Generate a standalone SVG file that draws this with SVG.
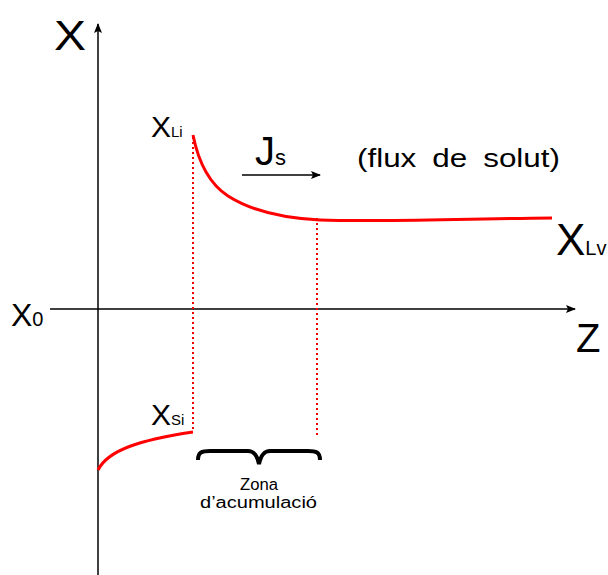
<svg xmlns="http://www.w3.org/2000/svg" width="608" height="575" viewBox="0 0 608 575">
<style>
text{font-family:"Liberation Sans","DejaVu Sans",sans-serif;fill:#000}
.ax{stroke:#000;stroke-width:1.5;fill:none}
.curve{stroke:#f00;stroke-width:3;fill:none}
.dot{stroke:#e00;stroke-width:2;stroke-dasharray:2 3;fill:none}
</style>
<defs>
<marker id="ah" markerWidth="10" markerHeight="8" refX="9" refY="4" orient="auto" markerUnits="userSpaceOnUse">
<path d="M0,0 L10,4 L0,8 L2,4 Z" fill="#000"/>
</marker>
</defs>
<g id="connectors">
<line class="ax" x1="98" y1="575" x2="98" y2="24" marker-end="url(#ah)"/>
<line class="ax" x1="50" y1="309" x2="575" y2="309" marker-end="url(#ah)"/>
<line class="ax" x1="242" y1="175" x2="320" y2="175" stroke-width="2" marker-end="url(#ah)"/>
<line class="dot" x1="193" y1="137" x2="193" y2="432"/>
<line class="dot" x1="317" y1="218" x2="317" y2="436"/>
<path class="curve" d="M193,135 C198,160 208,183 228,196 C250,210 280,218 320,220 C380,222 450,219 552,218"/>
<path class="curve" d="M98,470 C108,450 140,440 193,432"/>
<path d="M198,460 C198,452 202,451 210,451 L248,451 C254,451 257,455 259,464 C261,455 264,451 270,451 L308,451 C316,451 320,452 320,460" stroke="#000" stroke-width="4" fill="none"/>
</g>
<g id="axis-x-label"><text x="54" y="50" font-size="42" textLength="32" lengthAdjust="spacingAndGlyphs">X</text></g>
<g id="x0"><text x="11" y="326" font-size="32">X<tspan font-size="20">0</tspan></text></g>
<g id="z-label"><text x="576" y="352" font-size="40">Z</text></g>
<g id="xli"><text x="151" y="137" font-size="30">X<tspan font-size="15">Li</tspan></text></g>
<g id="js"><text x="255" y="165" font-size="40">J<tspan font-size="22">s</tspan></text></g>
<g id="flux"><text x="357" y="167" font-size="26" word-spacing="6" textLength="203" lengthAdjust="spacingAndGlyphs">(flux de solut)</text></g>
<g id="xlv"><text x="556" y="255" font-size="44">X<tspan font-size="20">Lv</tspan></text></g>
<g id="xsi"><text x="151" y="425" font-size="30">X<tspan font-size="15">Si</tspan></text></g>
<g id="zona"><text x="240" y="490" font-size="16" textLength="38" lengthAdjust="spacingAndGlyphs">Zona</text><text x="200" y="508" font-size="16" textLength="117" lengthAdjust="spacingAndGlyphs">d’acumulació</text></g>
</svg>
